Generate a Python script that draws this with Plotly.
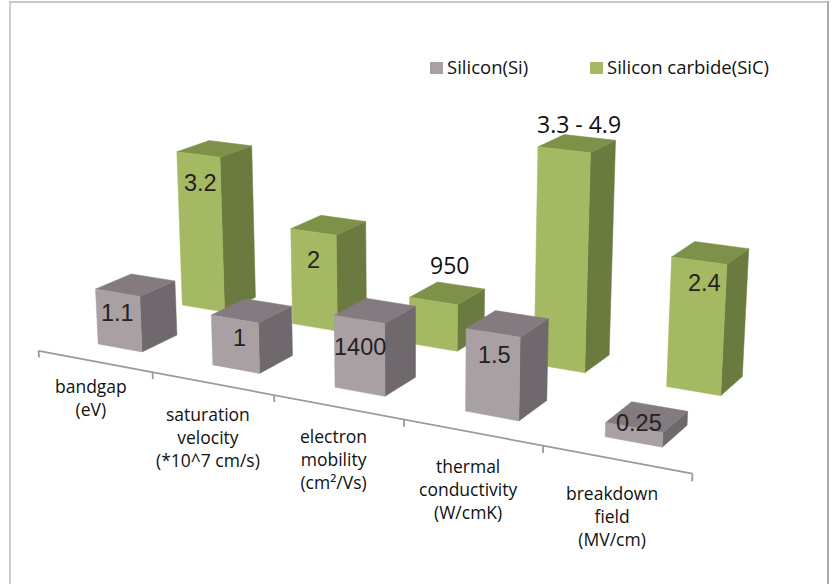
import numpy as np
import plotly.graph_objects as go

# Material properties, one group per metric
categories = ["bandgap<br>(eV)", "saturation<br>velocity<br>(*10^7 cm/s)", "electron<br>mobility<br>(cm²/Vs)",
              "thermal<br>conductivity<br>(W/cmK)", "breakdown<br>field<br>(MV/cm)"]
si_values = [1.1, 1.0, 1400, 1.5, 0.25]
sic_values = [3.2, 2.0, 950, 4.1, 2.4]
si_labels = ["1.1", "1", "1400", "1.5", "0.25"]
sic_labels = ["3.2", "2", "950", "3.3 - 4.9", "2.4"]
series_names = ["Silicon(Si)", "Silicon carbide(SiC)"]

# Each metric has its own unit, hence its own drawn scale
metric_scale = [0.38, 0.37, 0.00037, 0.384, 0.385]

SI_FACES = dict(front="#A9A0A3", side="#6F686C", top="#837B7F")
SIC_FACES = dict(front="#A5B963", side="#6B7A3F", top="#7E9148")
AXIS_COLOR = "#9A9A9A"
VALUE_FONT = dict(family="Liberation Sans", size=23.5, color="#222222")
TEXT_FONT = dict(family="Open Sans", size=17.5, color="#111111", weight=500)
LEGEND_FONT = dict(family="Open Sans", size=18.5, color="#111111", weight=500)
CALLOUT_FONT = dict(family="Open Sans", size=23, color="#111111", weight=500)

# Where labels sit on a bar's front face, as a fraction of its height, plus small nudges
si_label_lift = [0.63, 0.63, 0.62, 0.74, 1.3]
sic_label_lift = [0.82, 0.71, 0.5, 0.5, 0.83]
si_label_xshift = [-1, 4, 1, 2, 5]
sic_label_xshift = [1, 0, 0, 0, 6]
callout_yshift = {2: 28, 3: 20}
category_yshift = [-13, -19, -17, -22, -22]

BAR_W, BAR_D = 0.39, 0.44
SI_Y, SIC_Y = 0.33, 1.41
BAR_X = 0.285

# Pinhole camera for the bar scene, output in plot pixels
PHI, ELEV = np.radians(28), np.radians(17)
FOCAL, DIST = 2000.0, 12.8
PIVOT = np.array([3.1, 0.0, 0.874])
CX, CY = 417.5, 294.0
R = np.array([np.cos(PHI), np.sin(PHI), 0.0])
L = np.array([-np.sin(PHI) * np.cos(ELEV), np.cos(PHI) * np.cos(ELEV), -np.sin(ELEV)])
V = np.cross(R, L)


def project(x, y, z):
    p = np.array([x, y, z], dtype=float) - PIVOT
    d = DIST + p @ L
    return CX + FOCAL * (p @ R) / d, CY - FOCAL * (p @ V) / d


def height(i, v):
    return v * metric_scale[i]


fig = go.Figure()


def face(corners, color):
    pts = [project(*c) for c in corners]
    xs = [p[0] for p in pts] + [pts[0][0]]
    ys = [p[1] for p in pts] + [pts[0][1]]
    fig.add_trace(go.Scatter(x=xs, y=ys, mode="lines", fill="toself", fillcolor=color,
                             line=dict(color=color, width=0.5), hoverinfo="skip"))


def bar(x0, y0, h, colors):
    x1, y1 = x0 + BAR_W, y0 + BAR_D
    face([(x1, y0, 0), (x1, y1, 0), (x1, y1, h), (x1, y0, h)], colors["side"])
    face([(x0, y0, h), (x1, y0, h), (x1, y1, h), (x0, y1, h)], colors["top"])
    face([(x0, y0, 0), (x1, y0, 0), (x1, y0, h), (x0, y0, h)], colors["front"])


def line3d(a, b):
    pa, pb = project(*a), project(*b)
    fig.add_trace(go.Scatter(x=[pa[0], pb[0]], y=[pa[1], pb[1]], mode="lines",
                             line=dict(color=AXIS_COLOR, width=1.8), hoverinfo="skip"))


# Category axis on the floor with a tick at each group boundary
line3d((0, 0, 0), (5, 0, 0))
for t in range(6):
    line3d((t, 0, 0), (t, 0, -0.05))

annotations = []
# Rear row first so the front row paints over it
for i in range(5):
    bar(i + BAR_X, SIC_Y, height(i, sic_values[i]), SIC_FACES)
for i in range(5):
    bar(i + BAR_X, SI_Y, height(i, si_values[i]), SI_FACES)

for i in range(5):
    si_h, sic_h = height(i, si_values[i]), height(i, sic_values[i])
    px, py = project(i + BAR_X + BAR_W / 2, SI_Y, si_h * si_label_lift[i])
    annotations.append(dict(x=px, y=py, text=si_labels[i], showarrow=False, xshift=si_label_xshift[i], font=VALUE_FONT))
    if i in callout_yshift:
        # These two rear bars carry their value above the top face
        px, py = project(i + BAR_X + BAR_W / 2, SIC_Y + BAR_D / 2, sic_h)
        annotations.append(dict(x=px, y=py, text=sic_labels[i], showarrow=False, xshift=2, yshift=callout_yshift[i],
                                font=CALLOUT_FONT))
    else:
        px, py = project(i + BAR_X + BAR_W / 2, SIC_Y, sic_h * sic_label_lift[i])
        annotations.append(dict(x=px, y=py, text=sic_labels[i], showarrow=False, xshift=sic_label_xshift[i],
                                font=VALUE_FONT))
    px, py = project(i + 0.5, 0, 0)
    annotations.append(dict(x=px, y=py, text=categories[i], showarrow=False, yanchor="top", xshift=-4,
                            yshift=category_yshift[i] + 2, font=TEXT_FONT))

# Legend row and the frame around the chart (open along the bottom edge)
LEGEND = [(430, SI_FACES["front"], series_names[0]), (590, SIC_FACES["front"], series_names[1])]
shapes = [
    dict(type="line", xref="x", yref="y", x0=10, x1=10, y0=1, y1=584, line=dict(color="#CCCCCC", width=2), layer="below"),
    dict(type="line", xref="x", yref="y", x0=9, x1=829, y0=2, y1=2, line=dict(color="#C8C8C8", width=2), layer="below"),
    dict(type="line", xref="x", yref="y", x0=828, x1=828, y0=1, y1=584, line=dict(color="#ABABAB", width=2), layer="below"),
]
for lx, color, name in LEGEND:
    shapes.append(dict(type="rect", xref="x", yref="y", x0=lx, x1=lx + 13, y0=62, y1=74, fillcolor=color, line_width=0))
    annotations.append(dict(x=lx + 15, y=66, text=name, showarrow=False, xanchor="left", font=LEGEND_FONT))

fig.update_layout(
    width=835, height=584,
    margin=dict(l=0, r=0, t=0, b=0),
    paper_bgcolor="white", plot_bgcolor="white",
    showlegend=False,
    xaxis=dict(visible=False, range=[0, 835], fixedrange=True),
    yaxis=dict(visible=False, range=[584, 0], fixedrange=True),
    shapes=shapes,
    annotations=annotations,
)
fig.write_html("out.html")
